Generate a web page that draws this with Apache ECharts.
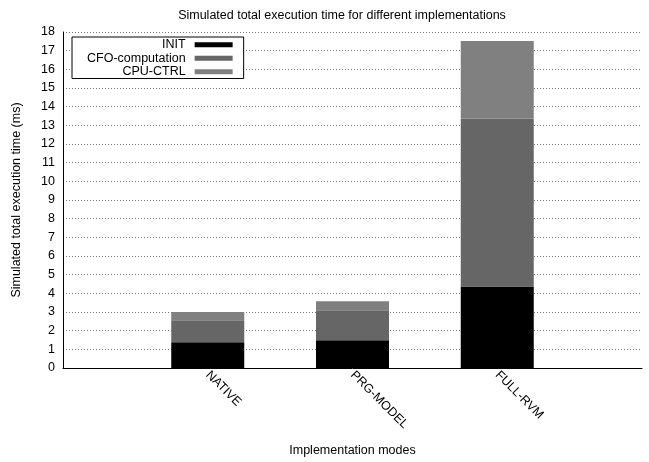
<!DOCTYPE html>
<html>
<head>
<meta charset="utf-8">
<script src="https://cdn.jsdelivr.net/npm/echarts@6/dist/echarts.min.js"></script>
<style>html,body{margin:0;padding:0;background:#fff}#c{width:649px;height:462px}</style>
</head>
<body>
<div id="c"></div>
<script>
const categories = ['NATIVE', 'PRG-MODEL', 'FULL-RVM'];
const initValues = [1.38, 1.49, 4.37];
const cfoValues = [1.18, 1.60, 9.00];
const cpuValues = [0.44, 0.48, 4.15];
const seriesNames = ['INIT', 'CFO-computation', 'CPU-CTRL'];
const seriesColors = ['#000000', '#666666', '#808080'];

// pad categories with empty slots on both sides (bars sit at positions 1..3 of 0..4)
const xCats = [''].concat(categories, ['']);
const pad = arr => [null].concat(arr, [null]);

const font = 'Liberation Sans, Arial, sans-serif';
const fs = 12.5;
const chart = echarts.init(document.getElementById('c'), null, {renderer: 'canvas'});
const mk = (name, data, color) => ({
  name: name, type: 'bar', stack: 'total', data: pad(data), barWidth: 73,
  itemStyle: {color: color}, emphasis: {disabled: true}
});
chart.setOption({
  animation: false,
  backgroundColor: '#fff',
  title: {
    text: 'Simulated total execution time for different implementations',
    left: 337, top: 4, textAlign: 'center',
    textStyle: {fontFamily: font, fontSize: fs, fontWeight: 'normal', color: '#000'}
  },
  legend: {
    orient: 'vertical', align: 'right', left: 72, top: 37,
    padding: [1, 11, 0, 15], itemGap: 0, itemWidth: 38, itemHeight: 5,
    borderColor: '#000', borderWidth: 1, backgroundColor: '#fff',
    icon: 'rect', selectedMode: false,
    textStyle: {fontFamily: font, fontSize: fs, color: '#000', lineHeight: 13.5, padding: [0, 4, 0, 0]},
    data: seriesNames
  },
  grid: {left: 63, right: 7, top: 32, bottom: 92, containLabel: false},
  xAxis: {
    type: 'category', data: xCats, boundaryGap: false,
    name: 'Implementation modes', nameLocation: 'middle', nameGap: 76,
    nameTextStyle: {fontFamily: font, fontSize: fs, color: '#000'},
    axisLine: {show: true, lineStyle: {color: '#000', width: 1}},
    axisTick: {show: false},
    axisLabel: {interval: 0, rotate: -45, fontFamily: font, fontSize: fs, color: '#000', margin: 5},
    splitLine: {show: false}
  },
  yAxis: {
    type: 'value', min: 0, max: 18, interval: 1,
    name: 'Simulated total execution time (ms)', nameLocation: 'middle', nameGap: 40,
    nameTextStyle: {fontFamily: font, fontSize: fs, color: '#000'},
    axisLine: {show: true, lineStyle: {color: '#000', width: 1}},
    axisTick: {show: false},
    axisLabel: {fontFamily: font, fontSize: fs, color: '#000', margin: 8},
    splitLine: {show: true, lineStyle: {color: '#777', width: 1, type: [1, 2]}}
  },
  series: [
    mk(seriesNames[0], initValues, seriesColors[0]),
    mk(seriesNames[1], cfoValues, seriesColors[1]),
    mk(seriesNames[2], cpuValues, seriesColors[2])
  ]
});
</script>
</body>
</html>
